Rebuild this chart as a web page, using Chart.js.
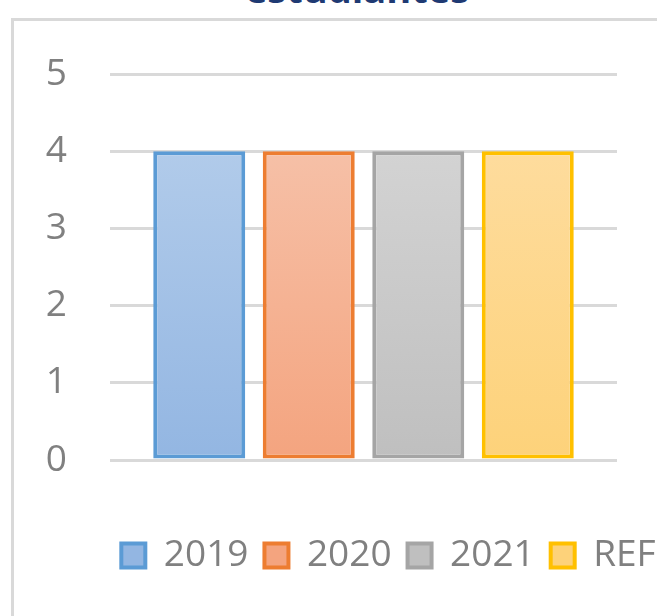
<!DOCTYPE html>
<html>
<head>
<meta charset="utf-8">
<script src="https://cdn.jsdelivr.net/npm/chart.js@4/dist/chart.umd.min.js"></script>
<style>
  html, body { margin: 0; padding: 0; background: #fff; }
  body { width: 657px; height: 616px; overflow: hidden; position: relative; font-family: 'Open Sans', sans-serif; }
  .frame { position: absolute; left: 11px; top: 18px; width: 800px; height: 700px; border: 3px solid #d9d9d9; background: #fff; }
  .title { position: absolute; left: 0; top: -31px; width: 714px; text-align: center; font-size: 38px; line-height: 38px; font-weight: bold; color: #1f3a73; white-space: nowrap; }
  #chart { position: absolute; left: 0; top: 0; }
</style>
</head>
<body>
<div class="frame"></div>
<div class="title">estudiantes</div>
<canvas id="chart" width="777" height="616"></canvas>
<script>
// data
const categories = [''];
const seriesNames = ['2019', '2020', '2021', 'REF'];
const seriesValues = [[4], [4], [4], [4]];
const yTicks = [0, 1, 2, 3, 4, 5];

// colours: border, gradient top, gradient bottom, flat (legend)
const borderColors = ['#5b9bd5', '#ed7d31', '#a5a5a5', '#ffc000'];
const topColors = ['#b1cbea', '#f6c0a7', '#d3d3d3', '#fedc9d'];
const bottomColors = ['#93b6e2', '#f4a47f', '#bfbfbf', '#fdd27a'];
const flatColors = ['#a3c0e6', '#f5b394', '#c9c9c9', '#fed78b'];

function barFill(i) {
    return function (ctx) {
        const chart = ctx.chart;
        const y = chart.scales && chart.scales.y;
        if (!chart.chartArea || !y || ctx.type !== 'data') return flatColors[i];
        const v = ctx.parsed ? ctx.parsed.y : seriesValues[i][ctx.dataIndex];
        const top = y.getPixelForValue(v);
        const bottom = y.getPixelForValue(0);
        const g = chart.ctx.createLinearGradient(0, top, 0, bottom);
        g.addColorStop(0, topColors[i]);
        g.addColorStop(1, bottomColors[i]);
        return g;
    };
}

const textGray = '#808080';
const font = { family: "'Open Sans', sans-serif", size: 37 };

new Chart(document.getElementById('chart'), {
    type: 'bar',
    data: {
        labels: categories,
        datasets: seriesNames.map((name, i) => ({
            label: name,
            data: seriesValues[i],
            backgroundColor: barFill(i),
            borderColor: borderColors[i],
            borderWidth: 4,
            borderSkipped: false,
            categoryPercentage: 0.864,
            barPercentage: 0.84
        }))
    },
    options: {
        responsive: false,
        animation: false,
        layout: { padding: { top: 74, bottom: 32 } },
        scales: {
            x: {
                grid: { display: false },
                border: { display: false },
                ticks: { display: false },
                afterFit(s) { s.height = 61; }
            },
            y: {
                min: 0,
                max: 5,
                afterBuildTicks(s) { s.ticks = yTicks.map(v => ({ value: v })); },
                grid: { color: '#d9d9d9', lineWidth: 3, drawTicks: false },
                border: { display: false },
                ticks: { color: textGray, font: font, padding: 43 },
                afterFit(s) { s.width = 110; }
            },
            y2: {
                position: 'right',
                grid: { display: false },
                border: { display: false },
                ticks: { display: false },
                afterFit(s) { s.width = 160; }
            }
        },
        plugins: {
            legend: {
                position: 'bottom',
                labels: {
                    color: textGray,
                    font: font,
                    boxWidth: 24,
                    boxHeight: 24,
                    padding: 16
                }
            },
            tooltip: { enabled: false }
        }
    }
});
</script>
</body>
</html>
